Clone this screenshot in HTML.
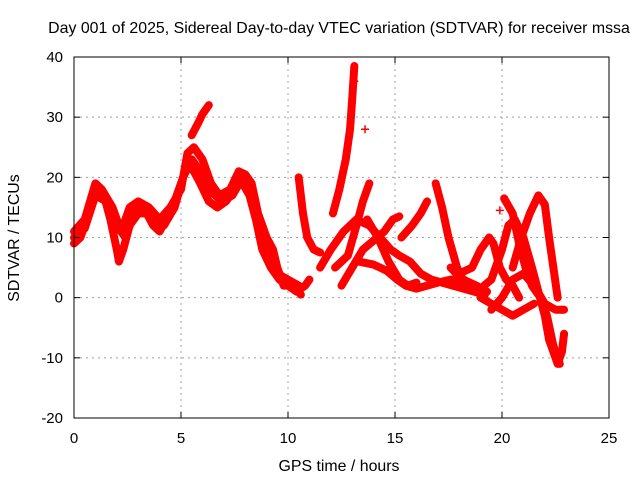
<!DOCTYPE html>
<html><head><meta charset="utf-8"><style>
html,body{margin:0;padding:0;background:#fff;}
svg{display:block;font-family:"Liberation Sans",sans-serif;}
</style></head><body>
<svg id="chart" width="640" height="480">
<text x="339" y="33" font-size="15.9" text-anchor="middle">Day 001 of 2025, Sidereal Day-to-day VTEC variation (SDTVAR) for receiver mssa</text>
<g id="grid"></g>
<g id="series"></g>
<rect x="74" y="57" width="535" height="361" fill="none" stroke="#000" stroke-width="1"/>
<g id="axes"></g>
<text x="339" y="471" font-size="15.9" text-anchor="middle">GPS time / hours</text>
<text transform="translate(19,238) rotate(-90)" font-size="15.9" text-anchor="middle">SDTVAR / TECUs</text>
</svg>
<script>
const xTicks=[0,5,10,15,20,25];
const yTicks=[-20,-10,0,10,20,30,40];
const trackA=[[0,9],[0.3,10],[0.6,13],[0.9,17],[1.1,18.5],[1.4,17],[1.7,13],[2.0,8],[2.1,6],[2.3,8],[2.6,12],[3.0,14],[3.4,14],[3.7,12],[4.0,11],[4.3,13],[4.7,16],[5.0,19],[5.3,22],[5.6,21],[5.9,19],[6.3,16],[6.7,15],[7.1,16],[7.5,18],[7.8,19.5],[8.2,17],[8.5,13],[8.8,8],[9.2,5],[9.6,3],[10.0,2],[10.4,1],[10.8,2],[11.0,3]];
const trackB=[[0,11],[0.5,13],[1.0,19],[1.3,18],[1.8,15],[2.2,11],[2.6,15],[3.0,16],[3.5,15],[4.0,13],[4.5,15],[5.0,18],[5.3,24],[5.6,25],[6.0,23],[6.4,19],[6.8,17],[7.3,18],[7.7,21],[8.0,20.5],[8.3,19],[8.6,14],[9.0,10],[9.3,8],[9.5,5],[9.8,2],[10.3,2],[10.6,0.5]];
const trackB2=[[0,10],[0.5,11.5],[1.0,17],[1.5,16],[2.0,12],[2.4,10],[2.8,14],[3.2,15],[3.7,14],[4.2,12],[4.7,15],[5.1,20],[5.5,23],[5.9,21],[6.3,18],[6.9,16],[7.4,17],[7.9,20],[8.3,18],[8.7,12],[9.1,7],[9.5,4],[10.0,3],[10.5,2]];
const trackC=[[5.5,27],[5.8,29],[6.0,30.5],[6.3,32]];
const trackD=[[10.5,20],[10.7,14],[10.9,10],[11.2,8],[11.5,7.5]];
const trackE=[[12.1,14],[12.4,18],[12.7,23],[12.9,28],[13.0,33],[13.1,38.5]];
const trackF=[[12.2,5],[12.8,7],[13.2,12],[13.5,16],[13.8,19]];
const trackG=[[11.5,5],[12,8],[12.6,11],[13.2,13],[13.8,12],[14.3,10],[14.8,8],[15.2,7],[15.7,6],[16.2,4],[16.7,3],[17.2,2.5],[17.7,2],[18.2,1.5],[18.7,1],[19.2,0.5]];
const trackH=[[12.5,2],[13.0,5],[13.5,8],[14,9.5],[14.5,11],[14.9,13],[15.2,13.5]];
const trackI=[[13.3,6],[14,5.5],[14.6,4.5],[15.1,3],[15.5,2],[16,1.5],[16.5,2],[17,2.5],[17.6,3],[18.2,3],[18.8,2],[19.3,1]];
const trackJ=[[15.3,10],[15.8,12],[16.2,14],[16.5,16]];
const trackK=[[13.7,13],[14.2,10],[14.7,6],[15.2,3],[15.6,2],[16,2.5]];
const trackL=[[16.9,19],[17.2,15],[17.5,10],[17.9,5],[18.3,2],[18.7,1]];
const trackM=[[17.6,5],[18,3.5],[18.6,2],[19,1.5],[19.5,3],[19.8,6],[20,8],[20.3,12],[20.6,13],[21,10],[21.4,5],[21.7,1],[22,-3],[22.2,-7],[22.5,-10],[22.6,-11],[22.8,-9],[22.9,-6]];
const trackN=[[18.0,4],[18.6,5],[19.0,8],[19.4,10],[19.6,9],[19.9,5],[20.2,3],[20.5,2],[20.8,0]];
const trackO=[[20.1,16.5],[20.5,14],[20.8,9],[21.1,5],[21.4,2],[21.8,0],[22.1,-3],[22.4,-8],[22.7,-11]];
const trackP=[[20.5,5],[20.9,10],[21.3,14],[21.7,17],[22.0,15.5],[22.2,10],[22.4,5],[22.6,0]];
const trackQ=[[19.5,-2],[20,0],[20.5,3],[21,4],[21.5,2],[22,-1],[22.5,-2],[22.9,-2]];
const trackR=[[19,0],[19.5,-1],[20,-2],[20.5,-3],[21,-2],[21.5,-1]];
const isolated=[[13.6,28],[19.9,14.5],[13.1,36],[22.8,-2]];
const tracks=[trackA,trackB,trackB2,trackC,trackD,trackE,trackF,trackG,trackH,trackI,trackJ,trackK,trackL,trackM,trackN,trackO,trackP,trackQ,trackR];
const NS='http://www.w3.org/2000/svg';
const X0=74,X1=609,Y0=418,Y1=57;
function sx(v){return X0+(v-0)/(25-0)*(X1-X0);}
function sy(v){return Y0-(v+20)/60*(Y0-Y1);}
const grid=document.getElementById('grid'),axes=document.getElementById('axes'),ser=document.getElementById('series');
function mk(tag,attrs,parent){const e=document.createElementNS(NS,tag);for(const k in attrs)e.setAttribute(k,attrs[k]);parent.appendChild(e);return e;}
xTicks.forEach(t=>{const x=sx(t);
 if(t>0&&t<25){const g=mk('line',{x1:x,x2:x,y1:Y1,y2:Y0,stroke:'#a0a0a0','stroke-dasharray':'2,4'},grid);}
 mk('line',{x1:x,x2:x,y1:Y0,y2:Y0-6,stroke:'#000'},axes);mk('line',{x1:x,x2:x,y1:Y1,y2:Y1+6,stroke:'#000'},axes);
 const l=mk('text',{x:x,y:443,'font-size':15,'text-anchor':'middle'},axes);l.textContent=t;
 });
yTicks.forEach(t=>{const y=sy(t);
 if(t>-20&&t<40){const g=mk('line',{x1:X0,x2:X1,y1:y,y2:y,stroke:'#a0a0a0','stroke-dasharray':'2,4'},grid);}
 mk('line',{x1:X0,x2:X0+6,y1:y,y2:y,stroke:'#000'},axes);mk('line',{x1:X1,x2:X1-6,y1:y,y2:y,stroke:'#000'},axes);
 const l=mk('text',{x:63,y:y+5,'font-size':15,'text-anchor':'end'},axes);l.textContent=t;
 });
tracks.forEach((tr,i)=>{
 const p=mk('polyline',{points:tr.map(d=>sx(d[0])+','+sy(d[1])).join(' '),fill:'none',stroke:'#ff0000','stroke-width':8,'stroke-linejoin':'round','stroke-linecap':'round'},ser);
 
 
});
isolated.forEach(d=>{const x=sx(d[0]),y=sy(d[1]);
 const g=mk('path',{d:`M${x-4},${y}H${x+4}M${x},${y-4}V${y+4}`,stroke:'#ff0000','stroke-width':1.5},ser);
 
 });
</script>
</body></html>
